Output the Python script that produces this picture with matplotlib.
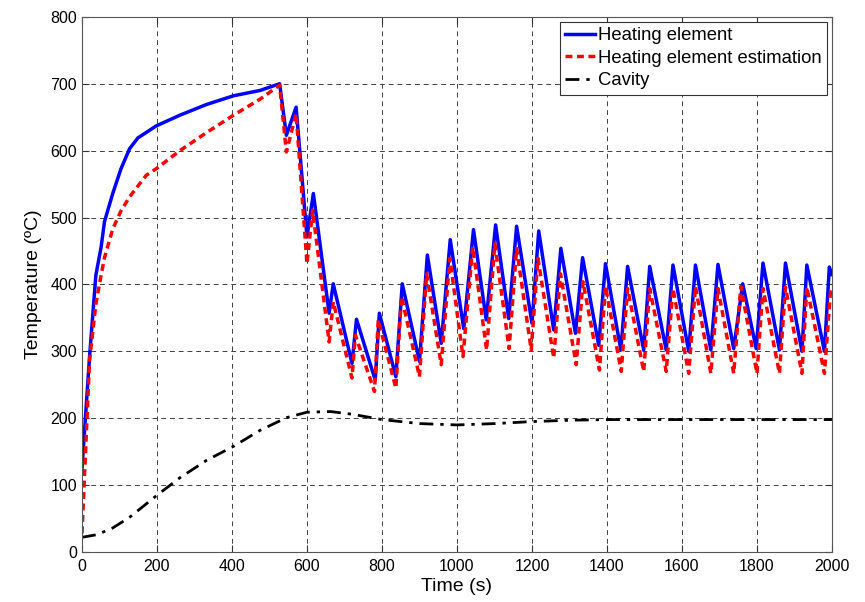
import matplotlib
matplotlib.use("Agg")
import matplotlib.pyplot as plt

plt.rcParams['font.family'] = ['Liberation Sans', 'DejaVu Sans']

# heating element (measured)
t_heat = [0, 20, 37, 51, 60, 82, 104, 127, 149, 198, 261, 332, 404, 475, 527,
          545, 571, 600, 617, 659, 670, 720, 732, 782, 793, 837, 854, 900, 921,
          958, 982, 1018, 1044, 1078, 1103, 1138, 1159, 1200, 1218, 1258, 1277,
          1316, 1335, 1378, 1396, 1437, 1455, 1498, 1514, 1558, 1576, 1618, 1636,
          1677, 1696, 1738, 1762, 1798, 1816, 1860, 1876, 1920, 1933, 1980, 1993, 2000]
T_heat = [125, 291, 414, 456, 494, 536, 573, 603, 619, 637, 653, 669, 682, 690, 700,
          623, 665, 471, 536, 357, 401, 282, 348, 257, 357, 262, 401, 285, 444,
          312, 467, 334, 482, 347, 489, 349, 487, 342, 480, 332, 454,
          327, 440, 309, 431, 302, 427, 302, 427, 302, 429, 300, 429,
          302, 430, 304, 401, 304, 432, 302, 432, 300, 429, 300, 426, 415]

# heating element estimation
t_est = [0, 20, 37, 51, 60, 82, 104, 127, 171, 198, 261, 332, 404, 475, 527,
         545, 571, 600, 615, 659, 670, 720, 729, 780, 790, 837, 852, 900, 919,
         958, 981, 1016, 1042, 1079, 1101, 1139, 1159, 1198, 1216, 1258, 1276,
         1318, 1336, 1380, 1396, 1438, 1455, 1498, 1514, 1558, 1576, 1618, 1636,
         1677, 1696, 1738, 1757, 1800, 1816, 1860, 1876, 1920, 1933, 1980, 1996, 2000]
T_est = [28, 286, 371, 414, 440, 483, 510, 531, 563, 573, 600, 627, 653, 677, 698,
         598, 655, 431, 511, 314, 374, 260, 324, 240, 347, 245, 382, 262, 416,
         280, 439, 292, 456, 302, 461, 304, 454, 302, 439, 290, 416,
         280, 404, 272, 397, 270, 394, 270, 394, 270, 394, 267, 397,
         267, 394, 267, 397, 267, 394, 267, 396, 267, 396, 267, 389, 385]

# cavity
t_cav = [0, 40, 82, 127, 198, 261, 332, 404, 475, 546, 600, 663, 720, 800,
         900, 1000, 1100, 1200, 1300, 1400, 1600, 1800, 2000]
T_cav = [22, 26, 36, 52, 84, 111, 137, 158, 182, 201, 209, 210, 206, 198,
         192, 190, 192, 195, 197, 198, 198, 198, 198]

fig = plt.figure(figsize=(8.65, 6.02), dpi=100)
ax = fig.add_axes([0.0948, 0.083, 0.867, 0.889])

ax.plot(t_heat, T_heat, color='#0000ff', lw=2.5, label='Heating element')
ax.plot(t_est, T_est, color='#ff0000', lw=2.5, linestyle=(0, (2, 1.3)),
        label='Heating element estimation')
ax.plot(t_cav, T_cav, color='black', lw=2, linestyle=(0, (5, 2.5, 1.2, 2.5)),
        label='Cavity')

ax.set_xlim(0, 2000)
ax.set_ylim(0, 800)
ax.set_xticks(range(0, 2001, 200))
ax.set_yticks(range(0, 801, 100))
ax.grid(True, color='#404040', linestyle=(0, (5, 4)), linewidth=0.7)
ax.set_axisbelow(True)
ax.tick_params(direction='in', top=True, right=True, length=5, labelsize=11.5,
               color='#333333')
ax.tick_params(axis='x', pad=5)
for s in ax.spines.values():
    s.set_color('#555555')

ax.set_xlabel('Time (s)', fontsize=14, labelpad=3)
ax.set_ylabel('Temperature (ºC)', fontsize=14, labelpad=6)

leg = ax.legend(loc='upper right', fontsize=13.3, fancybox=False, framealpha=1,
                edgecolor='#333333', handlelength=1.6, borderpad=0.3,
                labelspacing=0.3, handletextpad=0.15, borderaxespad=0.27)
leg.get_frame().set_linewidth(0.8)

fig.savefig('out.png', dpi=100)
